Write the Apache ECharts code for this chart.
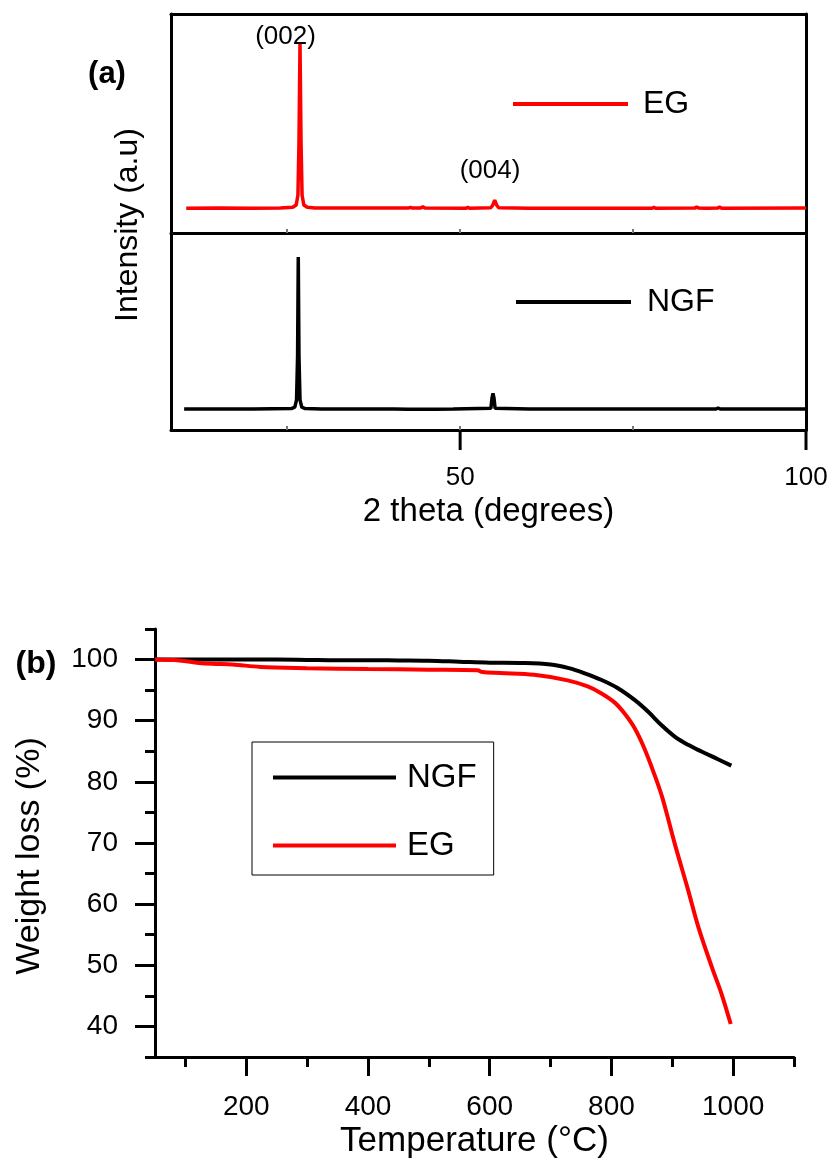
<!DOCTYPE html>
<html>
<head>
<meta charset="utf-8">
<script src="https://cdn.jsdelivr.net/npm/echarts@6/dist/echarts.min.js"></script>
<style>
html,body{margin:0;padding:0;background:#fff;}
#chart{width:835px;height:1160px;}
</style>
</head>
<body>
<div id="chart"></div>
<script>
// ---------- (a) XRD data (2 theta in degrees, intensity in a.u. incl. background) ----------
const egXrdTheta = [10.4, 15, 20, 24, 25.8, 26.3, 26.55, 26.7, 26.85, 27.0, 27.15, 27.4, 27.9, 29, 35, 42.5, 42.8, 43.1, 44.3, 44.6, 44.9, 50.8, 51.1, 51.4, 54.4, 54.7, 55.0, 55.3, 55.6, 60.0, 60.2, 60.5, 77.7, 78.0, 78.3, 83.9, 84.2, 84.5, 85.4, 85.6, 85.8, 87.2, 87.5, 87.8, 100];
const egXrdInt   = [200, 201, 200, 202, 206, 220, 280, 600, 1200, 600, 280, 220, 206, 202, 201, 201, 205, 201, 201, 209, 201, 200, 205, 200, 203, 218, 250, 218, 203, 200, 205, 200, 200, 205, 200, 201, 208, 201, 200, 204, 200, 201, 207, 200, 201];
const ngfXrdTheta = [10.1, 20, 25.6, 26.1, 26.35, 26.5, 26.6, 26.7, 26.85, 27.1, 27.6, 30, 40.5, 42.5, 44.5, 46.5, 49, 54.45, 54.6, 54.75, 54.9, 55.05, 60, 87.0, 87.3, 87.6, 100];
const ngfXrdInt   = [200, 200, 203, 212, 260, 550, 1200, 550, 260, 212, 203, 200, 200, 198, 198, 198, 200, 205, 270, 303, 270, 205, 200, 200, 207, 200, 200];
const xrdTickValues = [50, 100];
const xrdInnerTicks = [25, 50, 75];
const xrdPeakNames = ['(002)', '(004)'];
const xrdPeakTheta = [26.85, 55.0];
const xrdPeakInt = [1200, 250];

// ---------- (b) TGA data (temperature in °C, weight %) ----------
const ngfTgaTemp   = [50, 100, 150, 200, 250, 300, 350, 400, 450, 500, 550, 600, 650, 700, 730, 755, 783, 810, 838, 860, 882, 904, 926, 948, 975, 997];
const ngfTgaWeight = [100, 100, 100, 100, 100, 99.95, 99.9, 99.9, 99.85, 99.8, 99.65, 99.5, 99.45, 99.2, 98.6, 97.8, 96.7, 95.35, 93.4, 91.5, 89.3, 87.4, 86.05, 84.96, 83.7, 82.66];
const egTgaTemp    = [50, 90, 122, 144, 177, 223, 300, 400, 500, 580, 588, 618, 673, 728, 761, 783, 805, 821, 838, 854, 871, 884, 904, 926, 943, 965, 981, 996];
const egTgaWeight  = [100, 99.85, 99.45, 99.3, 99.2, 98.8, 98.6, 98.45, 98.35, 98.25, 97.95, 97.8, 97.5, 96.6, 95.6, 94.5, 93.0, 91.25, 88.8, 85.5, 81.1, 77.3, 69.9, 62.3, 56.2, 49.7, 45.3, 40.4];
const tgaTempMajor   = [200, 400, 600, 800, 1000];
const tgaTempMinor   = [100, 300, 500, 700, 900, 1100];
const tgaWeightMajor = [40, 50, 60, 70, 80, 90, 100];
const tgaWeightMinor = [35, 45, 55, 65, 75, 85, 95, 105];

// ---------- styling ----------
const FONT = 'Liberation Sans, Arial, Helvetica, sans-serif';
const RED = '#ff0000';
const BLACK = '#000000';
const peakLabelOffsets = [[-14.5, -7], [-4.7, -29.5]];
const xrdOuterTickLength = 20;

const zip = (xs, ys) => xs.map((x, i) => [x, ys[i]]);
const plain = v => String(v);

const chart = echarts.init(document.getElementById('chart'), null, {renderer: 'canvas'});

const frameLine = {show: true, onZero: false, lineStyle: {color: BLACK, width: 3}};
const noTick = {show: false};
const noLabel = {show: false};
const noSplit = {show: false};

const xrdMin = 8.2, xrdMax = 100;
const lowerYMin = 62, lowerYMax = 1358;

const xrdFrameY = (grid, min, max, pos) => ({
  gridIndex: grid, type: 'value', min: min, max: max, position: pos,
  axisLine: frameLine, axisTick: noTick, axisLabel: noLabel, splitLine: noSplit
});

const baseGraphic = [
  {id: 'lblA', type: 'text', x: 107, y: 74, style: {text: '(a)', fontSize: 31, fontWeight: 'bold', fontFamily: FONT, fill: BLACK, align: 'center', verticalAlign: 'middle'}},
  {id: 'lblB', type: 'text', x: 36, y: 664, style: {text: '(b)', fontSize: 32, fontWeight: 'bold', fontFamily: FONT, fill: BLACK, align: 'center', verticalAlign: 'middle'}},
  {id: 'ttlA', type: 'text', x: 128, y: 225, rotation: Math.PI / 2, style: {text: 'Intensity (a.u)', fontSize: 32, fontFamily: FONT, fill: BLACK, align: 'center', verticalAlign: 'middle'}},
  {id: 'ttlB', type: 'text', x: 30, y: 856, rotation: Math.PI / 2, style: {text: 'Weight loss (%)', fontSize: 34, fontFamily: FONT, fill: BLACK, align: 'center', verticalAlign: 'middle'}}
];

const option = {
  backgroundColor: '#ffffff',
  animation: false,
  textStyle: {fontFamily: FONT, color: BLACK},
  grid: [
    {left: 171, right: 29, top: 14, height: 219, containLabel: false},
    {left: 171, right: 29, top: 233, height: 197, containLabel: false},
    {left: 155, right: 41, top: 629, height: 428, containLabel: false}
  ],
  xAxis: [
    { // 0: panel (a) upper, divider line
      gridIndex: 0, type: 'value', min: xrdMin, max: xrdMax, position: 'bottom',
      axisLine: {show: true, onZero: false, lineStyle: {color: BLACK, width: 3}},
      axisTick: {show: true, inside: true, length: 4, customValues: xrdInnerTicks, lineStyle: {color: '#777', width: 2}},
      axisLabel: noLabel, splitLine: noSplit
    },
    { // 1: panel (a) upper, top line
      gridIndex: 0, type: 'value', min: xrdMin, max: xrdMax, position: 'top',
      axisLine: frameLine, axisTick: noTick, axisLabel: noLabel, splitLine: noSplit
    },
    { // 2: panel (a) lower, bottom axis
      gridIndex: 1, type: 'value', min: xrdMin, max: xrdMax, position: 'bottom',
      axisLine: {show: true, onZero: false, lineStyle: {color: BLACK, width: 3}},
      axisTick: {show: true, inside: true, length: 4, customValues: xrdInnerTicks, lineStyle: {color: '#777', width: 2}},
      axisLabel: {show: true, customValues: xrdTickValues, formatter: plain, margin: 35, fontSize: 26, color: BLACK, fontFamily: FONT},
      splitLine: noSplit,
      name: '2 theta (degrees)', nameLocation: 'middle', nameGap: 65,
      nameTextStyle: {fontSize: 33, color: BLACK, fontFamily: FONT}
    },
    { // 3: panel (b) major
      gridIndex: 2, type: 'value', min: 50, max: 1100, position: 'bottom',
      axisLine: {show: true, onZero: false, lineStyle: {color: BLACK, width: 3}},
      axisTick: {show: true, inside: false, length: 19, customValues: tgaTempMajor, lineStyle: {color: BLACK, width: 3}},
      axisLabel: {show: true, customValues: tgaTempMajor, formatter: plain, margin: 36, fontSize: 28, color: BLACK, fontFamily: FONT},
      splitLine: noSplit,
      name: 'Temperature (°C)', nameLocation: 'middle', nameGap: 67,
      nameTextStyle: {fontSize: 35, color: BLACK, fontFamily: FONT}
    },
    { // 4: panel (b) minor
      gridIndex: 2, type: 'value', min: 50, max: 1100, position: 'bottom',
      axisLine: {show: false, onZero: false},
      axisTick: {show: true, inside: false, length: 10, customValues: tgaTempMinor, lineStyle: {color: BLACK, width: 3}},
      axisLabel: noLabel, splitLine: noSplit
    }
  ],
  yAxis: [
    xrdFrameY(0, 50, 1378, 'left'),   // 0
    xrdFrameY(0, 50, 1378, 'right'),  // 1
    xrdFrameY(1, lowerYMin, lowerYMax, 'left'),   // 2
    xrdFrameY(1, lowerYMin, lowerYMax, 'right'),  // 3
    { // 4: panel (b) major
      gridIndex: 2, type: 'value', min: 35, max: 105, position: 'left',
      axisLine: {show: true, onZero: false, lineStyle: {color: BLACK, width: 3}},
      axisTick: {show: true, inside: false, length: 20, customValues: tgaWeightMajor, lineStyle: {color: BLACK, width: 3}},
      axisLabel: {show: true, customValues: tgaWeightMajor, formatter: plain, margin: 37, fontSize: 28, color: BLACK, fontFamily: FONT},
      splitLine: noSplit
    },
    { // 5: panel (b) minor
      gridIndex: 2, type: 'value', min: 35, max: 105, position: 'left',
      axisLine: {show: false, onZero: false},
      axisTick: {show: true, inside: false, length: 10, customValues: tgaWeightMinor, lineStyle: {color: BLACK, width: 3}},
      axisLabel: noLabel, splitLine: noSplit
    }
  ],
  legend: [
    {
      data: ['EG'], left: 513, top: 88, padding: 0, icon: 'rect', itemWidth: 115, itemHeight: 4,
      textStyle: {fontSize: 32, color: BLACK, fontFamily: FONT, padding: [0, 0, 0, 10]},
      selectedMode: false
    },
    {
      data: ['NGF'], left: 516, top: 286, padding: 0, icon: 'rect', itemWidth: 115, itemHeight: 4,
      textStyle: {fontSize: 32, color: BLACK, fontFamily: FONT, padding: [0, 0, 0, 11]},
      selectedMode: false
    },
    {
      data: ['NGF', 'EG'], orient: 'vertical', left: 252, top: 742,
      padding: [19, 17, 13, 21], itemGap: 35, icon: 'rect', itemWidth: 123, itemHeight: 4,
      borderColor: BLACK, borderWidth: 1, backgroundColor: '#fff',
      textStyle: {fontSize: 33, color: BLACK, fontFamily: FONT, padding: [0, 0, 0, 6]},
      selectedMode: false
    }
  ],
  series: [
    {
      name: 'EG', type: 'line', xAxisIndex: 0, yAxisIndex: 0,
      data: zip(egXrdTheta, egXrdInt), symbol: 'none', showSymbol: false,
      lineStyle: {color: RED, width: 3.5}, itemStyle: {color: RED},
      markPoint: {
        symbol: 'rect', symbolSize: 1, itemStyle: {color: 'rgba(0,0,0,0)'},
        label: {show: true, position: 'inside', formatter: p => p.name, fontSize: 26, color: BLACK, fontFamily: FONT},
        data: xrdPeakNames.map((n, i) => ({
          name: n, coord: [xrdPeakTheta[i], xrdPeakInt[i]],
          label: {offset: peakLabelOffsets[i]}
        }))
      }
    },
    {
      name: 'NGF', type: 'line', xAxisIndex: 2, yAxisIndex: 2,
      data: zip(ngfXrdTheta, ngfXrdInt), symbol: 'none', showSymbol: false,
      lineStyle: {color: BLACK, width: 3.5}, itemStyle: {color: BLACK}
    },
    {
      name: 'NGF', type: 'line', xAxisIndex: 3, yAxisIndex: 4,
      data: zip(ngfTgaTemp, ngfTgaWeight), symbol: 'none', showSymbol: false,
      smooth: 0.35,
      lineStyle: {color: BLACK, width: 4}, itemStyle: {color: BLACK}
    },
    {
      name: 'EG', type: 'line', xAxisIndex: 3, yAxisIndex: 4,
      data: zip(egTgaTemp, egTgaWeight), symbol: 'none', showSymbol: false,
      smooth: 0.35,
      lineStyle: {color: RED, width: 4}, itemStyle: {color: RED}
    }
  ],
  graphic: baseGraphic
};

chart.setOption(option);

// Outward tick marks of panel (a) at the labelled positions, placed through the axis scale.
const outerTicks = xrdTickValues.map((v, i) => {
  const p = chart.convertToPixel({xAxisIndex: 2, yAxisIndex: 2}, [v, lowerYMin]);
  return {
    id: 'xrdTick' + i, type: 'line', z: 100,
    shape: {x1: p[0], y1: p[1], x2: p[0], y2: p[1] + xrdOuterTickLength},
    style: {stroke: BLACK, lineWidth: 3}
  };
});
chart.setOption({graphic: baseGraphic.concat(outerTicks)});
</script>
</body>
</html>
